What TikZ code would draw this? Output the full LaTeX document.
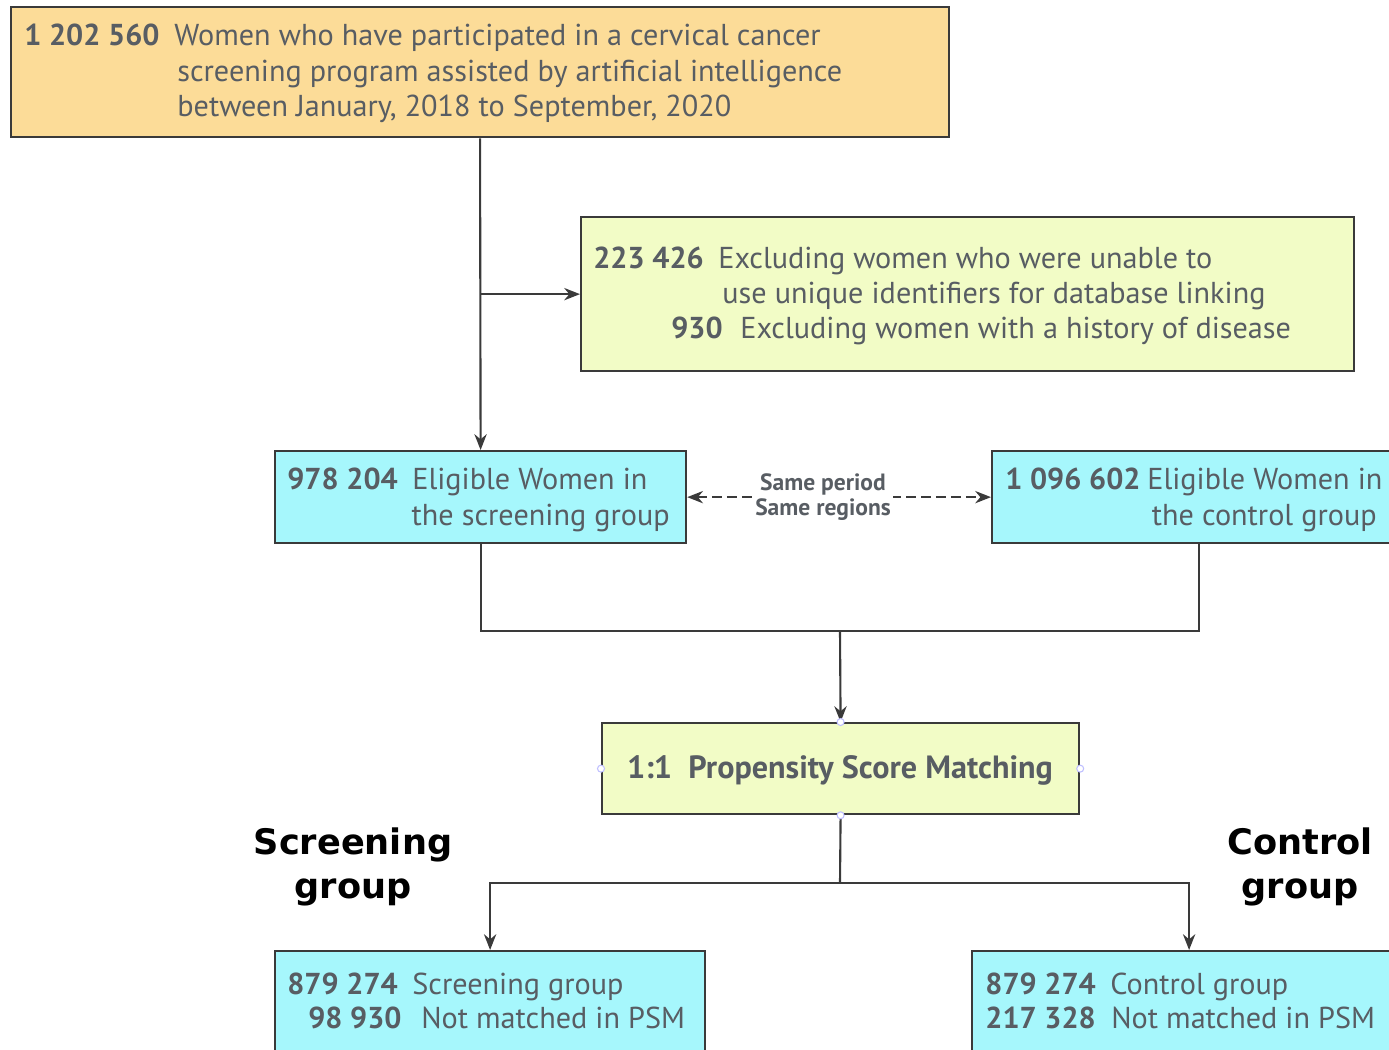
\documentclass[tikz,border=0pt]{standalone}
\usepackage{fontspec}
\usetikzlibrary{arrows.meta}
\setmainfont{PT Sans}
\newfontfamily\grpfont{DejaVu Sans}
\definecolor{txtgray}{HTML}{585D63}
\definecolor{topfill}{HTML}{FCDC98}
\definecolor{exclfill}{HTML}{F2FCC6}
\definecolor{cyanfill}{HTML}{A6F7FC}
\definecolor{linegray}{HTML}{3A3A3A}
\tikzset{
	box/.style={draw=linegray,line width=1.3pt,rectangle,anchor=north west,inner sep=0pt},
	txt/.style={anchor=base west,inner sep=0pt,text=txtgray,font=\fontsize{17.2}{20}\selectfont},
	num/.style={txt,font=\fontsize{17.2}{20}\selectfont\bfseries},
	link/.style={line width=1.2pt,draw=linegray},
	grp/.style={align=center,inner sep=0pt,font=\grpfont\fontsize{20}{25.5}\selectfont\bfseries},
	handle/.style={draw=blue!25,fill=white,line width=0.6pt}
}
\begin{document}
\begin{tikzpicture}[>={Stealth[length=9pt,width=7pt]},x=0.02cm,y=-0.02cm]
		\useasboundingbox (0,0) rectangle (1389,1049);
		\clip (0,0) rectangle (1389,1049);
		% boxes
		\node[box,fill=topfill,minimum width=18.76cm,minimum height=2.6cm] (top) at (10,6) {};
		\node[box,fill=exclfill,minimum width=15.46cm,minimum height=3.08cm] (excl) at (580,216) {};
		\node[box,fill=cyanfill,minimum width=8.22cm,minimum height=1.84cm] (elig) at (274,450) {};
		\node[box,fill=cyanfill,minimum width=8.28cm,minimum height=1.84cm] (ctrl) at (991,450) {};
		\node[box,fill=exclfill,minimum width=9.54cm,minimum height=1.82cm] (psm) at (601,722) {};
		\node[box,fill=cyanfill,minimum width=8.6cm,minimum height=3cm] (scr) at (274,950) {};
		\node[box,fill=cyanfill,minimum width=8.68cm,minimum height=3cm] (con) at (971,950) {};
		% texts
		\node[num] (topn) at (24,45) {1 202 560};
		\node[txt] (topa) at (174,45) {Women who have participated in a cervical cancer};
		\node[txt] (topb) at (177,81) {screening program assisted by artificial intelligence};
		\node[txt] (topc) at (177,116) {between January, 2018 to September, 2020};
		\node[num] (excln) at (593,268) {223 426};
		\node[txt] (excla) at (718,268) {Excluding women who were unable to};
		\node[txt] (exclb) at (722,303) {use unique identifiers for database linking};
		\node[num,anchor=base east] (exclm) at (723,338) {930};
		\node[txt] (exclc) at (740,338) {Excluding women with a history of disease};
		\node[num] (elign) at (287,489) {978 204};
		\node[txt] (eliga) at (412,489) {Eligible Women in};
		\node[txt,anchor=base east] (eligb) at (670,525) {the screening group};
		\node[num] (ctrln) at (1005,489) {1 096 602};
		\node[txt] (ctrla) at (1147,489) {Eligible Women in};
		\node[txt,anchor=base east] (ctrlb) at (1377,525) {the control group};
		\node[num,anchor=base,font=\fontsize{18.3}{20}\selectfont\bfseries] (psmt) at (840,778) {1:1\ \ Propensity Score Matching};
		\node[num] (scrn) at (287,994) {879 274};
		\node[txt] (scra) at (412,994) {Screening group};
		\node[num,anchor=base east] (scrm) at (402,1028) {98 930};
		\node[txt] (scrb) at (421,1028) {Not matched in PSM};
		\node[num] (conn) at (985,994) {879 274};
		\node[txt] (cona) at (1110,994) {Control group};
		\node[num] (conm) at (985,1028) {217 328};
		\node[txt] (conb) at (1111,1028) {Not matched in PSM};
		\node[grp] (scrgrp) at (353,867) {Screening\\group};
		\node[grp] (congrp) at (1300,867) {Control\\group};
		% connectors
		\draw[link,->] (top.south) -- (elig.north);
		\draw[link,->] (top.south |- excl.west) -- (excl.west);
		\draw[link,dash pattern=on 5.5pt off 3pt,<->] (elig.east) -- (ctrl.west)
			node[pos=0.447,fill=white,inner sep=1pt,align=center,text=txtgray,
			font=\fontsize{13.4}{14.7}\selectfont\bfseries] (same) {Same period\\Same regions};
		\coordinate (join) at (840,631);
		\draw[link] (elig.south) |- (join) -| (ctrl.south);
		\draw[link,->] (join) -- (psm.north);
		\coordinate (split) at (840,883);
		\draw[link] (psm.south) -- (split);
		\draw[link,->] (split) -| (scr.north);
		\draw[link,->] (split) -| (con.north);
		\foreach \a in {north,south,east,west}
		\draw[handle] (psm.\a) circle (3.5);
		\end{tikzpicture}
\end{document}
